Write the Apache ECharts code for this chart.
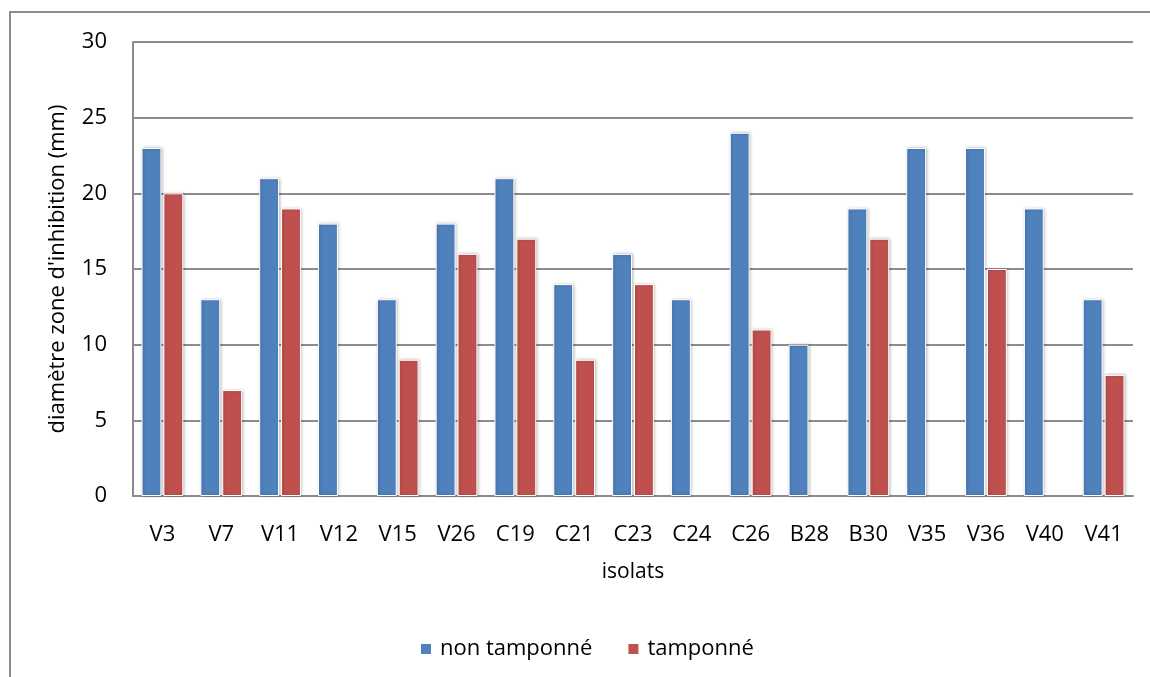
<!DOCTYPE html>
<html>
<head>
<meta charset="utf-8">
<script src="https://cdn.jsdelivr.net/npm/echarts@6/dist/echarts.min.js"></script>
<style>
html,body{margin:0;padding:0;background:#fff;}
#chart{width:1150px;height:677px;}
</style>
</head>
<body>
<div id="chart"></div>
<script>
const categories = ['V3','V7','V11','V12','V15','V26','C19','C21','C23','C24','C26','B28','B30','V35','V36','V40','V41'];
const nonTamponne = [23,13,21,18,13,18,21,14,16,13,24,10,19,23,23,19,13];
const tamponne = [20,7,19,0,9,16,17,9,14,0,11,0,17,0,15,0,8];
const seriesNames = ['non tamponné','tamponné'];
const yTicks = [0,5,10,15,20,25,30];

const FONT = '"Open Sans", sans-serif';
const chart = echarts.init(document.getElementById('chart'), null, {renderer:'canvas'});
const barStyle = (c) => ({
  color: c,
  borderColor: '#ffffff',
  borderWidth: 1,
  shadowColor: 'rgba(0,0,0,0.25)',
  shadowBlur: 3,
  shadowOffsetX: 1,
  shadowOffsetY: 0
});
const toBar = arr => arr.map(v => v === 0 ? '-' : v);

chart.setOption({
  backgroundColor: '#ffffff',
  animation: false,
  graphic: [{
    type: 'rect',
    shape: {x: 10, y: 12, width: 1200, height: 720},
    style: {fill: 'none', stroke: '#8c8c8c', lineWidth: 2},
    silent: true,
    z: -1
  }],
  grid: {left: 133, right: 17, top: 42, bottom: 181, containLabel: false},
  legend: {
    data: seriesNames,
    left: 414,
    top: 633,
    icon: 'rect',
    itemWidth: 12,
    itemHeight: 12,
    itemGap: 34,
    textStyle: {fontFamily: FONT, fontSize: 22, color: '#000', padding: [0,0,0,3]}
  },
  xAxis: {
    type: 'category',
    data: categories,
    name: 'isolats',
    nameLocation: 'middle',
    nameGap: 66,
    nameTextStyle: {fontFamily: FONT, fontSize: 21, color: '#000'},
    axisLine: {lineStyle: {color: '#8c8c8c', width: 2}},
    axisTick: {show: false},
    axisLabel: {fontFamily: FONT, fontSize: 22, color: '#000', margin: 28}
  },
  yAxis: {
    type: 'value',
    min: yTicks[0],
    max: yTicks[yTicks.length-1],
    interval: yTicks[1]-yTicks[0],
    name: "diamètre zone d'inhibition (mm)",
    nameLocation: 'middle',
    nameGap: 64,
    nameTextStyle: {fontFamily: FONT, fontSize: 22, color: '#000'},
    axisLine: {show: true, lineStyle: {color: '#8c8c8c', width: 2}},
    axisTick: {show: false},
    axisLabel: {fontFamily: FONT, fontSize: 22, color: '#000', margin: 26},
    splitLine: {lineStyle: {color: '#8c8c8c', width: 2}}
  },
  series: [
    {name: seriesNames[0], type: 'bar', data: toBar(nonTamponne), barGap: '10%', barCategoryGap: '29%', itemStyle: barStyle('#4f81bd')},
    {name: seriesNames[1], type: 'bar', data: toBar(tamponne), barGap: '10%', barCategoryGap: '29%', itemStyle: barStyle('#c0504d')}
  ]
});
</script>
</body>
</html>
